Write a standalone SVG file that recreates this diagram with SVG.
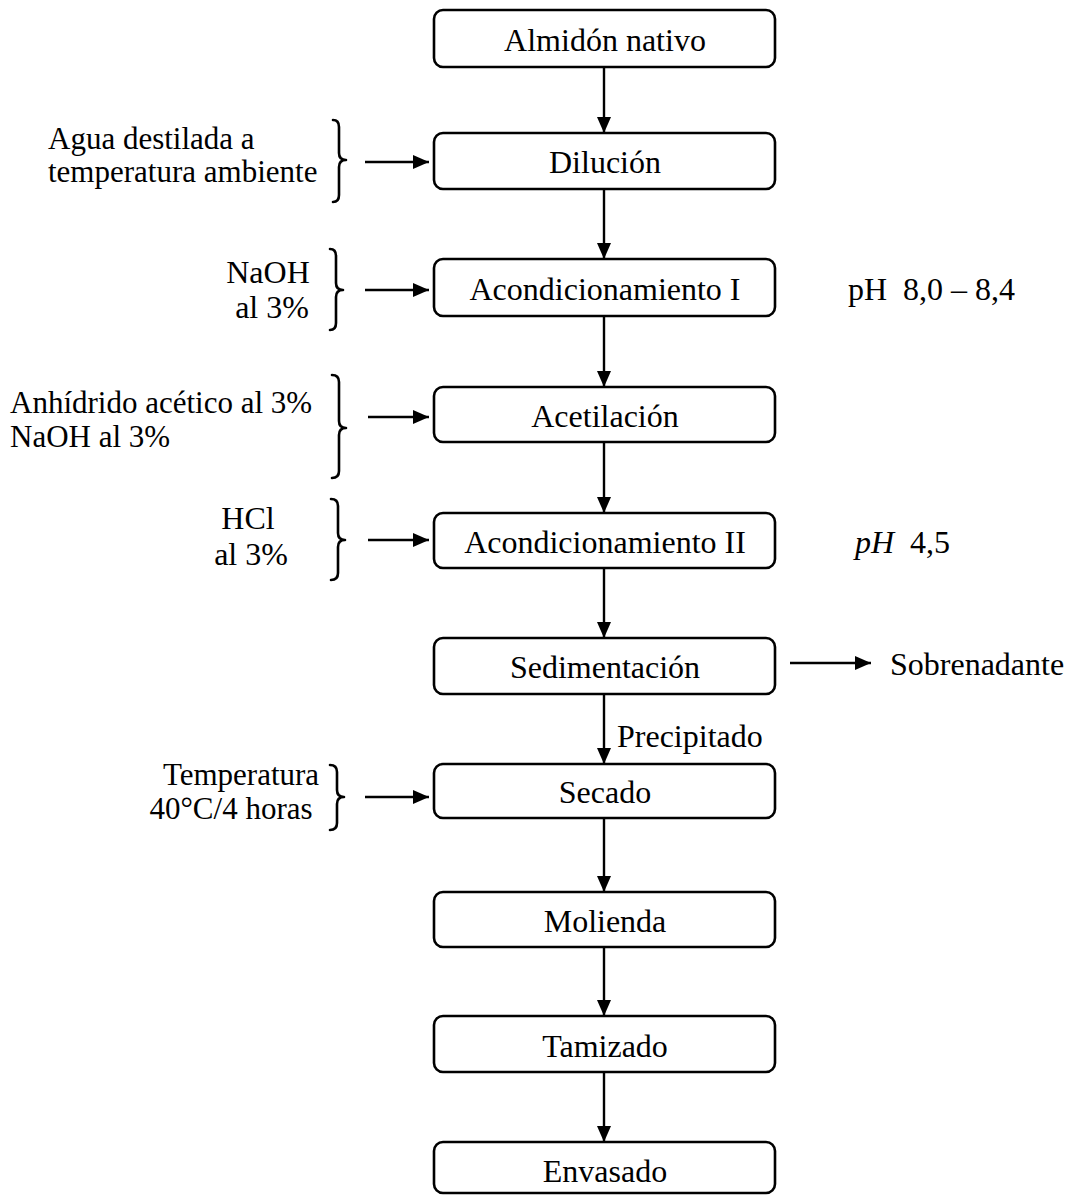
<svg xmlns="http://www.w3.org/2000/svg" width="1071" height="1195" viewBox="0 0 1071 1195">
<style>
.box{fill:#fff;stroke:#000;stroke-width:2.6}
.t{font-family:"Liberation Serif","Times New Roman",serif;font-size:32px;fill:#000}
.s{font-size:31px}
.c{text-anchor:middle}
.ln{fill:none;stroke:#000;stroke-width:2.4}
.br{fill:none;stroke:#000;stroke-width:2.6;stroke-linejoin:round;stroke-linecap:round}
</style>
<defs>
<marker id="ah" viewBox="0 0 16 14" refX="16" refY="7" markerWidth="16" markerHeight="14" markerUnits="userSpaceOnUse" orient="auto">
<path d="M0,0 L16,7 L0,14 z" fill="#000"/>
</marker>
</defs>
<rect width="1071" height="1195" fill="#fff"/>
<g id="connectors">
<line class="ln" x1="604" y1="67" x2="604" y2="133" marker-end="url(#ah)"/>
<line class="ln" x1="604" y1="189" x2="604" y2="259" marker-end="url(#ah)"/>
<line class="ln" x1="604" y1="316" x2="604" y2="387" marker-end="url(#ah)"/>
<line class="ln" x1="604" y1="442" x2="604" y2="513" marker-end="url(#ah)"/>
<line class="ln" x1="604" y1="568" x2="604" y2="638" marker-end="url(#ah)"/>
<line class="ln" x1="604" y1="694" x2="604" y2="764" marker-end="url(#ah)"/>
<line class="ln" x1="604" y1="818" x2="604" y2="892" marker-end="url(#ah)"/>
<line class="ln" x1="604" y1="947" x2="604" y2="1016" marker-end="url(#ah)"/>
<line class="ln" x1="604" y1="1072" x2="604" y2="1142" marker-end="url(#ah)"/>
<line class="ln" x1="365" y1="162" x2="429" y2="162" marker-end="url(#ah)"/>
<line class="ln" x1="365" y1="290" x2="429" y2="290" marker-end="url(#ah)"/>
<line class="ln" x1="368" y1="417" x2="429" y2="417" marker-end="url(#ah)"/>
<line class="ln" x1="368" y1="540" x2="429" y2="540" marker-end="url(#ah)"/>
<line class="ln" x1="365" y1="797" x2="429" y2="797" marker-end="url(#ah)"/>
<line class="ln" x1="790" y1="663" x2="871" y2="663" marker-end="url(#ah)"/>
<text class="t" x="617" y="747">Precipitado</text>
</g>
<g id="n1"><rect class="box" x="434" y="10" width="341" height="57" rx="9"/><text class="t c" x="605" y="51">Almidón nativo</text></g>
<g id="n2"><rect class="box" x="434" y="133" width="341" height="56" rx="9"/><text class="t c" x="605" y="173">Dilución</text></g>
<g id="n3"><rect class="box" x="434" y="259" width="341" height="57" rx="9"/><text class="t c" x="605" y="300">Acondicionamiento I</text></g>
<g id="n4"><rect class="box" x="434" y="387" width="341" height="55" rx="9"/><text class="t c" x="605" y="427">Acetilación</text></g>
<g id="n5"><rect class="box" x="434" y="513" width="341" height="55" rx="9"/><text class="t c" x="605" y="553">Acondicionamiento II</text></g>
<g id="n6"><rect class="box" x="434" y="638" width="341" height="56" rx="9"/><text class="t c" x="605" y="678">Sedimentación</text></g>
<g id="n7"><rect class="box" x="434" y="764" width="341" height="54" rx="9"/><text class="t c" x="605" y="803">Secado</text></g>
<g id="n8"><rect class="box" x="434" y="892" width="341" height="55" rx="9"/><text class="t c" x="605" y="932">Molienda</text></g>
<g id="n9"><rect class="box" x="434" y="1016" width="341" height="56" rx="9"/><text class="t c" x="605" y="1057">Tamizado</text></g>
<g id="n10"><rect class="box" x="434" y="1142" width="341" height="51" rx="9"/><text class="t c" x="605" y="1182">Envasado</text></g>
<g id="in1">
<text class="t s" x="48" y="149">Agua destilada a</text>
<text class="t s" x="48" y="182">temperatura ambiente</text>
<path class="br" d="M333,120 Q339,120 339,127 L339,153 Q339,160 346,160 Q339,160 339,167 L339,195 Q339,202 333,202"/>
</g>
<g id="in2">
<text class="t c" x="268" y="283">NaOH</text>
<text class="t c" x="272" y="318">al 3%</text>
<path class="br" d="M330,249 Q336,249 336,256 L336,283 Q336,290 343,290 Q336,290 336,297 L336,323 Q336,330 330,330"/>
</g>
<g id="in3">
<text class="t s" x="10" y="413">Anhídrido acético al 3%</text>
<text class="t s" x="10" y="447">NaOH al 3%</text>
<path class="br" d="M332,375 Q339,375 339,382 L339,421 Q339,428 346,428 Q339,428 339,435 L339,471 Q339,478 332,478"/>
</g>
<g id="in4">
<text class="t c" x="248" y="529">HCl</text>
<text class="t c" x="251" y="565">al 3%</text>
<path class="br" d="M331,499 Q338,499 338,506 L338,533 Q338,540 345,540 Q338,540 338,547 L338,573 Q338,580 331,580"/>
</g>
<g id="in5">
<text class="t s" x="241" y="785" text-anchor="middle">Temperatura</text>
<text class="t s" x="231" y="819" text-anchor="middle">40°C/4 horas</text>
<path class="br" d="M330,765 Q337,765 337,772 L337,790 Q337,797 344,797 Q337,797 337,804 L337,823 Q337,830 330,830"/>
</g>
<g id="out">
<text class="t" x="848" y="300">pH&#160; 8,0 – 8,4</text>
<text class="t" x="855" y="553"><tspan font-style="italic">pH</tspan>&#160; 4,5</text>
<text class="t" x="890" y="675">Sobrenadante</text>
</g>
</svg>
